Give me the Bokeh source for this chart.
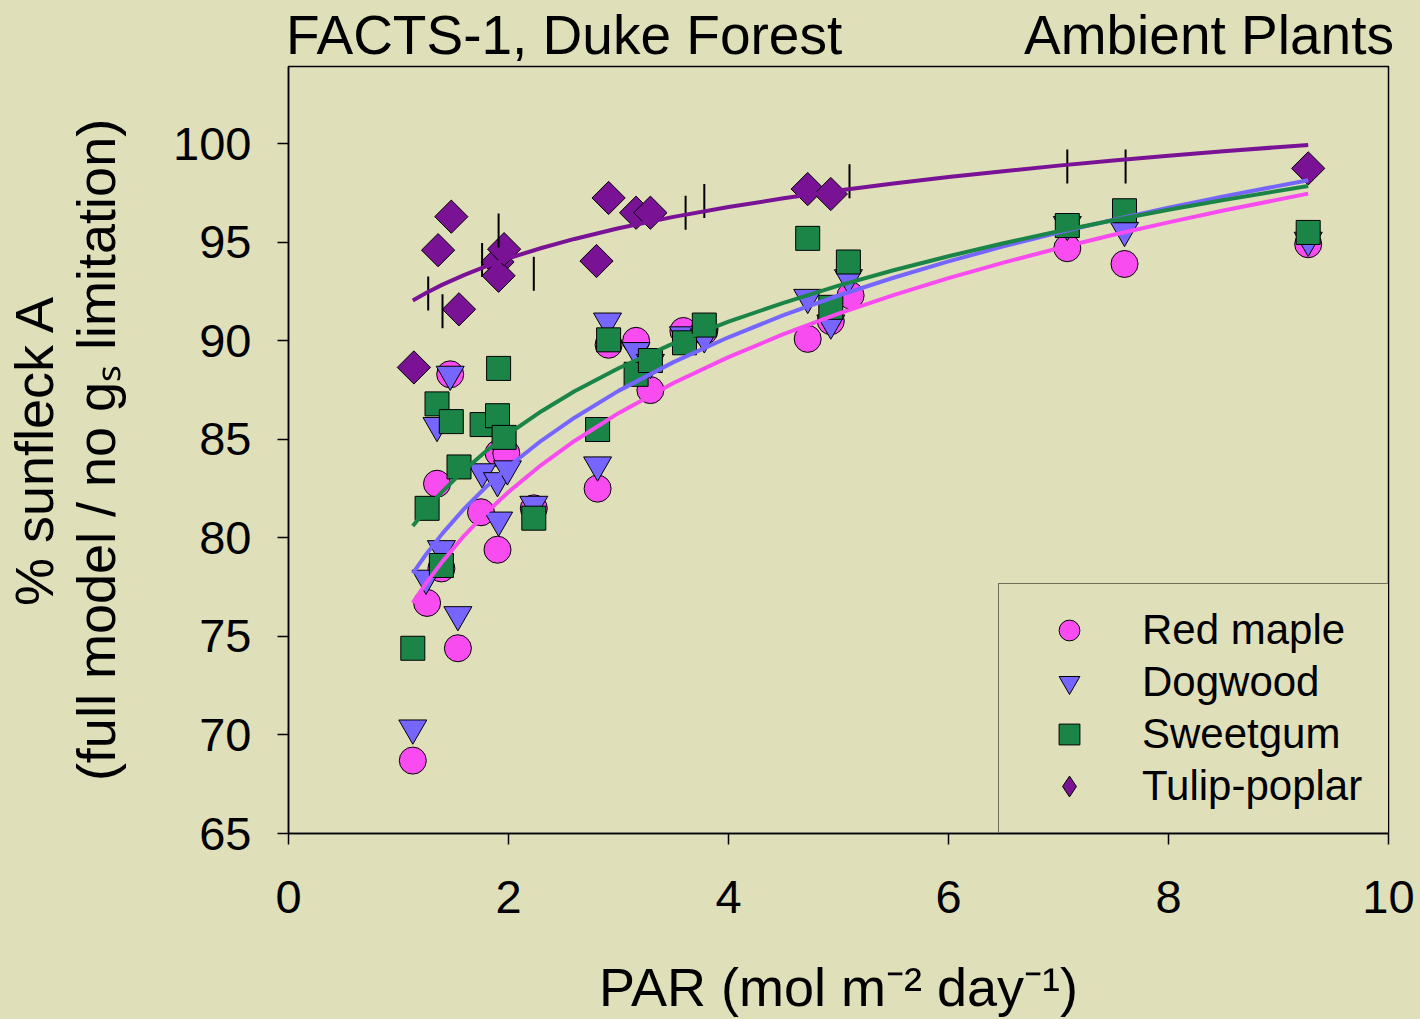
import math
from bokeh.plotting import figure
from bokeh.models import Range1d, FixedTicker, Legend, LegendItem, LinearAxis
from bokeh.embed import file_html
from bokeh.resources import INLINE

# ---------------- data ----------------
x_ticks = [0, 2, 4, 6, 8, 10]
y_ticks = [65, 70, 75, 80, 85, 90, 95, 100]

title_left = "FACTS-1, Duke Forest"
title_right = "Ambient Plants"
title_pos = [2.505, 8.368]
x_label = "PAR (mol m\u207b\u00b2 day\u207b\u00b9)"
y_label_1 = "% sunfleck A"
y_label_2 = "(full model / no g\u209b limitation)"

red_x = [1.13, 1.26, 1.35, 1.39, 1.47, 1.54, 1.75, 1.90, 1.91, 1.98, 2.23, 2.81, 2.91, 3.16, 3.29, 3.59, 3.78, 4.72, 4.93, 5.11, 7.08, 7.60, 9.27]
red_y = [68.7, 76.7, 82.75, 78.45, 88.3, 74.4, 81.3, 79.4, 84.3, 84.3, 81.5, 82.5, 89.8, 90.0, 87.5, 90.5, 90.5, 90.1, 91.0, 92.3, 94.7, 93.9, 94.9]

dog_x = [1.13, 1.25, 1.35, 1.39, 1.47, 1.54, 1.76, 1.90, 1.91, 1.99, 2.23, 2.81, 2.90, 3.16, 3.29, 3.59, 3.78, 4.72, 4.93, 5.09, 7.08, 7.60, 9.27]
dog_y = [70.35, 77.95, 85.7, 79.45, 88.3, 76.1, 83.35, 82.9, 80.9, 83.5, 81.7, 83.7, 91.0, 89.5, 88.9, 90.3, 90.2, 92.2, 90.9, 93.2, 95.9, 95.6, 95.1]

sweet_x = [1.13, 1.26, 1.35, 1.39, 1.48, 1.55, 1.76, 1.90, 1.91, 1.96, 2.23, 2.81, 2.91, 3.16, 3.29, 3.60, 3.78, 4.72, 4.93, 5.09, 7.08, 7.60, 9.27]
sweet_y = [74.4, 81.5, 86.8, 78.6, 85.9, 83.6, 85.75, 86.2, 88.6, 85.1, 81.0, 85.5, 90.05, 88.3, 89.0, 89.9, 90.8, 95.2, 91.7, 94.0, 95.85, 96.6, 95.5]

tulip_x = [1.14, 1.36, 1.48, 1.55, 1.90, 1.91, 1.96, 2.80, 2.91, 3.16, 3.29, 4.72, 4.93, 9.27]
tulip_y = [88.65, 94.6, 96.3, 91.6, 94.0, 93.3, 94.65, 94.05, 97.25, 96.5, 96.5, 97.7, 97.45, 98.75]

bar_x = [1.27, 1.40, 1.76, 1.91, 2.23, 3.61, 3.78, 5.10, 7.08, 7.61]
bar_y = [92.4, 91.5, 94.1, 95.6, 93.4, 96.5, 97.1, 98.1, 98.85, 98.85]

curve_x = [1.13, 1.25, 1.4, 1.6, 1.8, 2.0, 2.3, 2.6, 3.0, 3.5, 4.0, 4.5, 5.0, 5.5, 6.0, 6.5, 7.0, 7.5, 8.0, 8.5, 9.27]
red_fit = [76.70, 77.69, 78.81, 80.13, 81.29, 82.33, 83.71, 84.92, 86.33, 87.86, 89.17, 90.34, 91.38, 92.32, 93.18, 93.97, 94.70, 95.38, 96.01, 96.61, 97.47]
dog_fit = [78.20, 79.16, 80.23, 81.50, 82.61, 83.61, 84.94, 86.10, 87.46, 88.92, 90.18, 91.30, 92.30, 93.20, 94.03, 94.79, 95.49, 96.14, 96.75, 97.33, 98.15]
sweet_fit = [80.60, 81.43, 82.36, 83.45, 84.42, 85.28, 86.43, 87.44, 88.61, 89.87, 90.97, 91.93, 92.80, 93.58, 94.29, 94.95, 95.56, 96.12, 96.65, 97.15, 97.86]
tulip_fit = [92.05, 92.43, 92.85, 93.35, 93.79, 94.19, 94.71, 95.17, 95.71, 96.29, 96.79, 97.23, 97.63, 97.98, 98.31, 98.61, 98.89, 99.15, 99.39, 99.62, 99.94]

species = ["Red maple", "Dogwood", "Sweetgum", "Tulip-poplar"]

# ---------------- style ----------------
BG = "#DFDFB9"
PINK = "#F84CF0"
BLUE = "#7666FF"
GREEN = "#1B8548"
PURPLE = "#7A1296"
FONT = "Liberation Sans"

p = figure(width=1420, height=1019, output_backend="svg", toolbar_location=None,
           x_range=Range1d(0, 10), y_range=Range1d(65, 103.92),
           min_border_left=288, min_border_right=32, min_border_top=66, min_border_bottom=185,
           background_fill_color=BG, border_fill_color=BG)
p.grid.visible = False
p.outline_line_color = "black"
p.outline_line_width = 1.5

for ax in (p.xaxis[0], p.yaxis[0]):
    ax.major_tick_out = 11
    ax.major_tick_in = 0
    ax.minor_tick_line_color = None
    ax.axis_line_width = 1.5
    ax.axis_line_color = "black"
    ax.major_tick_line_width = 1.5
    ax.major_tick_line_color = "black"
    ax.major_label_text_font = FONT
    ax.major_label_text_font_size = "47px"
    ax.major_label_text_color = "black"
    ax.axis_label_text_font = FONT
    ax.axis_label_text_font_size = "54px"
    ax.axis_label_text_font_style = "normal"
    ax.axis_label_text_color = "black"
p.xaxis.ticker = FixedTicker(ticks=x_ticks)
p.yaxis.ticker = FixedTicker(ticks=y_ticks)
p.xaxis.major_label_standoff = 36
p.yaxis.major_label_standoff = 26
p.xaxis.axis_label = x_label
p.xaxis.axis_label_standoff = 41
p.yaxis.axis_label = y_label_2
p.yaxis.axis_label_standoff = 44

# outer left axis carrying the first line of the y label
y_outer = LinearAxis(ticker=FixedTicker(ticks=[]), axis_line_color=None,
                     major_tick_line_color=None, minor_tick_line_color=None,
                     major_tick_out=0, major_tick_in=0,
                     axis_label=y_label_1, axis_label_standoff=0,
                     axis_label_text_font=FONT, axis_label_text_font_size="54px",
                     axis_label_text_font_style="normal", axis_label_text_color="black")
p.add_layout(y_outer, "left")

# top axis carrying the two header texts
top_axis = LinearAxis(ticker=FixedTicker(ticks=title_pos),
                      major_label_overrides={title_pos[0]: title_left, title_pos[1]: title_right},
                      axis_line_color=None, major_tick_line_color=None, minor_tick_line_color=None,
                      major_tick_out=0, major_tick_in=0, major_label_standoff=1,
                      major_label_text_font=FONT, major_label_text_font_size="55px",
                      major_label_text_color="black")
p.add_layout(top_axis, "above")

r_red = p.scatter(red_x, red_y, marker="circle", size=27, fill_color=PINK, line_color="black", line_width=1)
r_dog = p.scatter(dog_x, dog_y, marker="inverted_triangle", size=28, fill_color=BLUE, line_color="black", line_width=1)
r_sweet = p.scatter(sweet_x, sweet_y, marker="square", size=24, fill_color=GREEN, line_color="black", line_width=1)
# diamond glyph used for the legend key; fully covered by the rotated squares below
r_tulip_key = p.scatter(tulip_x, tulip_y, marker="diamond", size=30, fill_color=PURPLE, line_color="black", line_width=1)
r_tulip = p.scatter(tulip_x, tulip_y, marker="square", angle=math.pi / 4, size=23.5, fill_color=PURPLE, line_color="black", line_width=1)
p.scatter(bar_x, bar_y, marker="dash", angle=math.pi / 2, size=34, line_color="black", line_width=2)

p.line(curve_x, red_fit, line_color=PINK, line_width=4)
p.line(curve_x, dog_fit, line_color=BLUE, line_width=4)
p.line(curve_x, sweet_fit, line_color=GREEN, line_width=4)
p.line(curve_x, tulip_fit, line_color=PURPLE, line_width=4)

legend = Legend(items=[LegendItem(label=species[0], renderers=[r_red]),
                       LegendItem(label=species[1], renderers=[r_dog]),
                       LegendItem(label=species[2], renderers=[r_sweet]),
                       LegendItem(label=species[3], renderers=[r_tulip_key])],
                location=(710, 0), margin=0, padding=20, spacing=0,
                glyph_width=100, glyph_height=52, label_standoff=23, label_width=227, label_height=40,
                label_text_font=FONT, label_text_font_size="42px", label_text_color="black",
                border_line_color="black", border_line_width=1.5,
                background_fill_color=BG, background_fill_alpha=1.0)
p.add_layout(legend)

html = file_html(p, INLINE)
html = html.replace("</head>", "<style>html, body { background: %s; }</style></head>" % BG, 1)
open("out.html", "w").write(html)
